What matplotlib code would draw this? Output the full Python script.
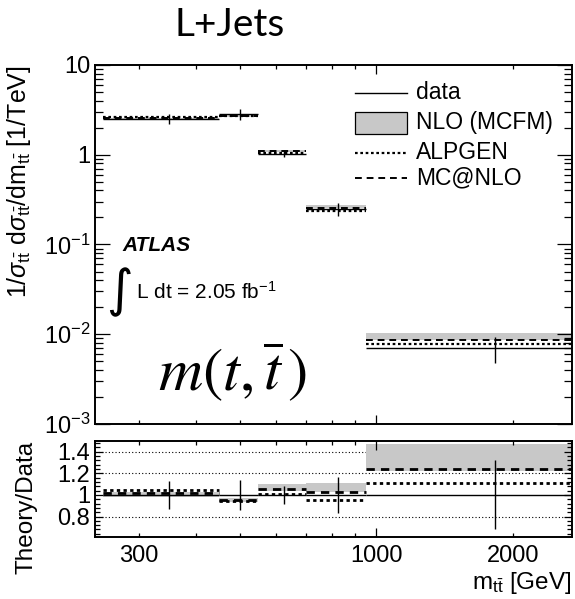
import math

import matplotlib
matplotlib.use("Agg")
import matplotlib.pyplot as plt
from matplotlib.lines import Line2D
from matplotlib.patches import Rectangle
from matplotlib.ticker import FixedLocator, FuncFormatter, MultipleLocator, NullFormatter

plt.rcParams["font.family"] = ["Liberation Sans", "DejaVu Sans"]
plt.rcParams["mathtext.fontset"] = "custom"
plt.rcParams["mathtext.rm"] = "Liberation Sans"
plt.rcParams["mathtext.it"] = "Liberation Sans:italic"
plt.rcParams["mathtext.bf"] = "Liberation Sans:bold"

# m(tt) bins [GeV] and the point positions inside them
edges = [250, 450, 550, 700, 950, 2700]
centers = [350, 500, 625, 825, 1825]

# normalised differential cross section [1/TeV]
data = [2.50, 2.84, 1.03, 0.248, 0.0070]
data_rel_err = [0.13, 0.14, 0.08, 0.17, 0.32]
nlo_lo = [2.45, 2.64, 1.07, 0.255, 0.0086]
nlo_hi = [2.58, 2.75, 1.13, 0.275, 0.0103]
alpgen = [2.62, 2.68, 1.04, 0.237, 0.0078]
mcatnlo = [2.54, 2.71, 1.09, 0.254, 0.0087]

# theory / data
ratio_nlo_lo = [0.985, 0.93, 1.04, 1.03, 1.225]
ratio_nlo_hi = [1.03, 0.97, 1.10, 1.11, 1.47]
ratio_alpgen = [1.046, 0.945, 1.01, 0.955, 1.11]
ratio_mcatnlo = [1.015, 0.955, 1.058, 1.025, 1.237]

GREY = "#c8c8c8"
DOT = (0, (1.2, 1.2))
lo_edges = edges[:-1]
hi_edges = edges[1:]
widths = [b - a for a, b in zip(lo_edges, hi_edges)]

W, H = 575, 599
fig = plt.figure(figsize=(W / 100, H / 100), dpi=100)
ax1 = fig.add_axes([95 / W, 1 - 424 / H, 477 / W, 359 / H])
ax2 = fig.add_axes([95 / W, 1 - 537 / H, 477 / W, 96 / H])

# ---- upper panel
ax1.bar(lo_edges, [h - l for l, h in zip(nlo_lo, nlo_hi)], bottom=nlo_lo,
        width=widths, align="edge", color=GREY, linewidth=0, zorder=1)
ax1.hlines(alpgen, lo_edges, hi_edges, colors="black", linestyles=DOT, lw=1.6, zorder=3)
ax1.hlines(mcatnlo, lo_edges, hi_edges, colors="black", linestyles=(0, (3.5, 2.5)), lw=1.4, zorder=3)
ax1.hlines(data, lo_edges, hi_edges, colors="black", lw=1.0, zorder=4)
ax1.vlines(centers, [d * (1 - e) for d, e in zip(data, data_rel_err)],
           [d * (1 + e) for d, e in zip(data, data_rel_err)], colors="black", lw=1.0, zorder=4)

ax1.set_xscale("log")
ax1.set_yscale("log")
ax1.set_xlim(240, 2700)
ax1.set_ylim(1e-3, 10)


def decade_label(v, pos):
    e = int(round(math.log10(v)))
    if e == 1:
        return "10"
    if e == 0:
        return "1"
    return r"$10^{%d}$" % e


ax1.yaxis.set_major_formatter(FuncFormatter(decade_label))
ax1.yaxis.set_minor_formatter(NullFormatter())
ax1.xaxis.set_major_locator(FixedLocator([1000]))
ax1.xaxis.set_minor_locator(FixedLocator([300, 400, 500, 600, 700, 800, 900, 2000]))
ax1.xaxis.set_major_formatter(NullFormatter())
ax1.xaxis.set_minor_formatter(NullFormatter())
ax1.tick_params(axis="both", which="both", direction="in", top=True, right=True,
                labelsize=17, width=0.9)
ax1.tick_params(axis="y", which="major", length=11)
ax1.tick_params(axis="y", which="minor", length=5.5)
ax1.tick_params(axis="x", which="major", length=6.5)
ax1.tick_params(axis="x", which="minor", length=3.2)
for s in ax1.spines.values():
    s.set_linewidth(1.4)

ax1.set_ylabel(r"$1/\sigma_{\mathrm{t\bar{t}}}\ \mathrm{d}\sigma_{\mathrm{t\bar{t}}}/\mathrm{dm}_{\mathrm{t\bar{t}}}$ [1/TeV]",
               fontsize=18, loc="top")
ax1.yaxis.set_label_coords(-0.13, 1.0)


# legend drawn by hand in ROOT style
def ax_pt(px, py):
    return (px - 95) / 477, (424 - py) / 359


rows = [("data", 93), ("NLO (MCFM)", 123), ("ALPGEN", 153), ("MC@NLO", 178)]
x0, _ = ax_pt(355, 0)
x1, _ = ax_pt(407, 0)
xt, _ = ax_pt(416, 0)
for label, py in rows:
    _, y = ax_pt(0, py)
    if label == "data":
        ax1.add_line(Line2D([x0, x1], [y, y], transform=ax1.transAxes, color="black", lw=1.0))
    elif label == "NLO (MCFM)":
        _, yb = ax_pt(0, py + 11)
        _, yt = ax_pt(0, py - 11)
        ax1.add_patch(Rectangle((x0, yb), x1 - x0, yt - yb, transform=ax1.transAxes,
                                facecolor=GREY, edgecolor="black", lw=0.9))
    elif label == "ALPGEN":
        ax1.add_line(Line2D([x0, x1], [y, y], transform=ax1.transAxes, color="black",
                            lw=1.6, linestyle=DOT))
    else:
        ax1.add_line(Line2D([x0, x1], [y, y], transform=ax1.transAxes, color="black",
                            lw=1.4, linestyle=(0, (3.5, 2.5))))
    ax1.text(xt, y, label, transform=ax1.transAxes, fontsize=16.5, va="center", ha="left")

ax1.text(*ax_pt(122, 246), "ATLAS", transform=ax1.transAxes, fontsize=15,
         fontweight="bold", fontstyle="italic", va="center", ha="left")
ax1.text(*ax_pt(119, 292), r"$\int$", transform=ax1.transAxes, fontsize=26,
         va="center", ha="center", math_fontfamily="dejavusans")
ax1.text(*ax_pt(136, 292), r"L dt = 2.05 fb$^{-1}$", transform=ax1.transAxes,
         fontsize=15, va="center", ha="left")
ax1.text(*ax_pt(233, 371), r"$m(t,\overline{t}\,)$", transform=ax1.transAxes,
         fontsize=44, va="center", ha="center", math_fontfamily="stix")

# ---- ratio panel
for g in (0.8, 1.2, 1.4):
    ax2.axhline(g, color="black", lw=0.8, linestyle=(0, (1, 2)), zorder=0)
ax2.bar(lo_edges, [h - l for l, h in zip(ratio_nlo_lo, ratio_nlo_hi)], bottom=ratio_nlo_lo,
        width=widths, align="edge", color=GREY, linewidth=0, zorder=1)
ax2.hlines(ratio_alpgen, lo_edges, hi_edges, colors="black", linestyles=DOT, lw=2.0, zorder=3)
ax2.hlines(ratio_mcatnlo, lo_edges, hi_edges, colors="black", linestyles=(0, (3.0, 2.2)), lw=2.0, zorder=3)
ax2.hlines([1.0] * len(centers), lo_edges, hi_edges, colors="black", lw=1.0, zorder=4)
ax2.vlines(centers, [1 - e for e in data_rel_err], [1 + e for e in data_rel_err],
           colors="black", lw=1.0, zorder=4)

ax2.set_xscale("log")
ax2.set_xlim(240, 2700)
ax2.set_ylim(0.61, 1.5)
ax2.yaxis.set_major_locator(FixedLocator([0.8, 1.0, 1.2, 1.4]))
ax2.yaxis.set_major_formatter(FuncFormatter(lambda v, p: "%g" % v))
ax2.yaxis.set_minor_locator(MultipleLocator(0.04))
ax2.xaxis.set_major_locator(FixedLocator([1000]))
ax2.xaxis.set_minor_locator(FixedLocator([300, 400, 500, 600, 700, 800, 900, 2000]))
ax2.xaxis.set_major_formatter(FuncFormatter(lambda v, p: "%d" % v))
ax2.xaxis.set_minor_formatter(FuncFormatter(lambda v, p: "%d" % v if v in (300, 2000) else ""))
ax2.tick_params(axis="both", which="both", direction="in", top=True, right=True,
                labelsize=17, width=0.9)
ax2.tick_params(axis="x", which="both", pad=6)
ax2.tick_params(axis="y", which="major", length=6)
ax2.tick_params(axis="y", which="minor", length=3.5)
ax2.tick_params(axis="x", which="major", length=6.5)
ax2.tick_params(axis="x", which="minor", length=3.2)
for s in ax2.spines.values():
    s.set_linewidth(1.4)

ax2.set_ylabel("Theory/Data", fontsize=17.5, loc="top")
ax2.yaxis.set_label_coords(-0.12, 1.0)
ax2.set_xlabel(r"m$_{\mathrm{t\bar{t}}}$ [GeV]", fontsize=17.5, loc="right", labelpad=2)

fig.text(175 / W, 1 - 36 / H, "L+Jets", fontsize=28, family=["Lato", "DejaVu Sans"],
         ha="left", va="baseline")

fig.savefig("out.png", dpi=100)
